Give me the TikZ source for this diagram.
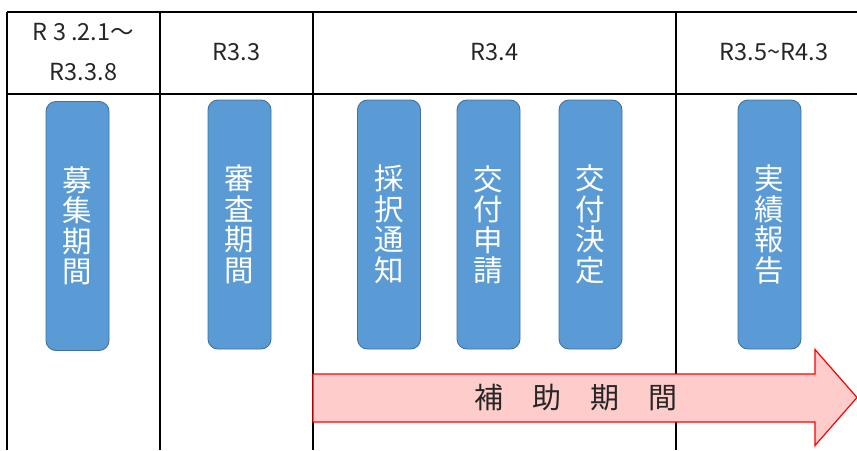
\documentclass[tikz,border=0pt]{standalone}
\usepackage{fontspec}
\setmainfont{Noto Sans CJK JP}
\definecolor{boxfill}{HTML}{5B9BD5}
\definecolor{boxline}{HTML}{41719C}
\definecolor{arrowfill}{HTML}{FFCCCC}
\definecolor{arrowline}{HTML}{FF0000}
\tikzset{
  grid/.style={line width=1.8pt, black},
  stepbox/.style={draw=boxline, line width=0.9pt, fill=boxfill, rounded corners=10pt,
    minimum width=63pt, minimum height=249pt, inner sep=0pt, align=center,
    text=white, font=\fontsize{29.5}{30.5}\selectfont},
  head/.style={font=\fontsize{23.5}{40}\selectfont, align=center, text=black!85},
  band/.style={draw=arrowline, line width=1.2pt, fill=arrowfill}
}
\begin{document}
\begin{tikzpicture}[x=1pt,y=-1pt]
\useasboundingbox (0,0) rectangle (857,450);
% table
\draw[grid] (7,12) -- (857,12);
\draw[grid] (7,94) -- (857,94);
\draw[grid] (7,12) -- (7,450);
\draw[grid] (160,12) -- (160,450);
\draw[grid] (313,12) -- (313,450);
\draw[grid] (676,12) -- (676,450);
% headers
\node[head] (h1) at (83.5,52) {R 3 .2.1～\\R3.3.8};
\node[head] (h2) at (236.5,52) {R3.3};
\node[head] (h3) at (494.5,52) {R3.4};
\node[head] (h4) at (774,52) {R3.5\char"007E R4.3};
% boxes
\node[stepbox] (b1) at (77.5,226) {募\\集\\期\\間};
\node[stepbox] (b2) at (239.5,224.5) {審\\査\\期\\間};
\node[stepbox] (b3) at (389,224.5) {採\\択\\通\\知};
\node[stepbox] (b4) at (488.5,224.5) {交\\付\\申\\請};
\node[stepbox] (b5) at (590.5,224.5) {交\\付\\決\\定};
\node[stepbox] (b6) at (769.5,224.5) {実\\績\\報\\告};
% arrow
\draw[band] (313,374) -- (815,374) -- (815,349.5) -- (857,397.5) -- (815,445.5) -- (815,422) -- (313,422) -- cycle;
\node[font=\fontsize{29}{30}\selectfont, text=black!85] (lbl) at (576,397.5) {補　助　期　間};
\end{tikzpicture}
\end{document}
